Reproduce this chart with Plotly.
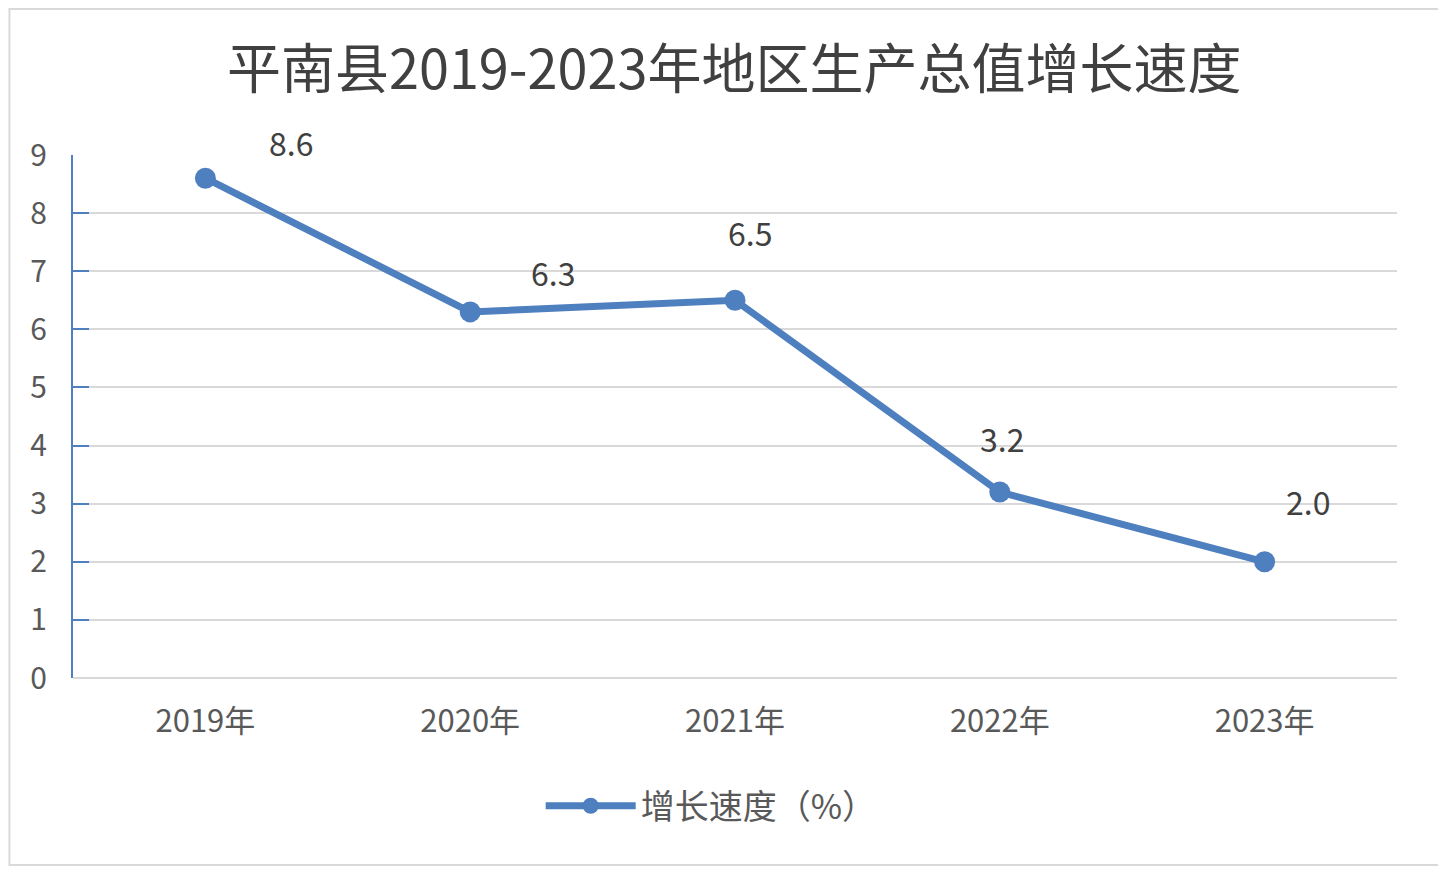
import plotly.graph_objects as go

years = ['2019年', '2020年', '2021年', '2022年', '2023年']
growth = [8.6, 6.3, 6.5, 3.2, 2.0]
series_name = '增长速度（%）'
title = '平南县2019-2023年地区生产总值增长速度'

# label offsets (px) - the source chart places them by hand
label_dx = [86, 83, 15, 2, 43]
label_dy = [36, 40, 68, 54, 61]

blue = '#4e7fbf'
font = 'Noto Sans CJK SC'

fig = go.Figure()
fig.add_trace(
    go.Scatter(
        x=years,
        y=growth,
        name=series_name,
        mode='lines+markers',
        line=dict(color=blue, width=7),
        marker=dict(color=blue, size=21),
    )
)

for yr, v, dx, dy in zip(years, growth, label_dx, label_dy):
    fig.add_annotation(
        x=yr, y=v, text=f'{v:.1f}', showarrow=False,
        xshift=dx, yshift=dy,
        font=dict(family=font, size=32, color='#404040'),
    )

# outer border of the chart
fig.add_shape(
    type='rect', xref='paper', yref='paper',
    x0=-0.048, x1=1.0325, y0=-0.3576, y1=1.279,
    line=dict(color='#d9d9d9', width=2), fillcolor='rgba(0,0,0,0)',
)

fig.update_layout(
    width=1438, height=862,
    margin=dict(l=65, r=49, t=147, b=192),
    paper_bgcolor='white', plot_bgcolor='white',
    font=dict(family=font, color='#595959'),
    title=dict(
        text=title, x=0.505, xanchor='center', y=0.928, yanchor='middle',
        font=dict(family=font, size=54, color='#404040'),
    ),
    showlegend=True,
    legend=dict(
        orientation='h', x=0.482, xanchor='center', y=-0.245, yanchor='middle',
        font=dict(family=font, size=34, color='#595959'),
        itemwidth=90,
    ),
    xaxis=dict(
        range=[-0.5, 4.5], showgrid=False, showline=False, ticks='',
        ticklabelstandoff=22,
        tickfont=dict(size=31, color='#595959'),
    ),
    yaxis=dict(
        range=[0, 9], dtick=1, showgrid=True, gridcolor='#d9d9d9', gridwidth=2,
        zeroline=True, zerolinecolor='#d9d9d9', zerolinewidth=2,
        showline=True, linecolor=blue, linewidth=2,
        ticks='inside', ticklen=16, tickcolor=blue, tickwidth=2,
        ticklabelstandoff=18,
        tickfont=dict(size=30, color='#595959'),
    ),
)

fig.write_html('out.html')
